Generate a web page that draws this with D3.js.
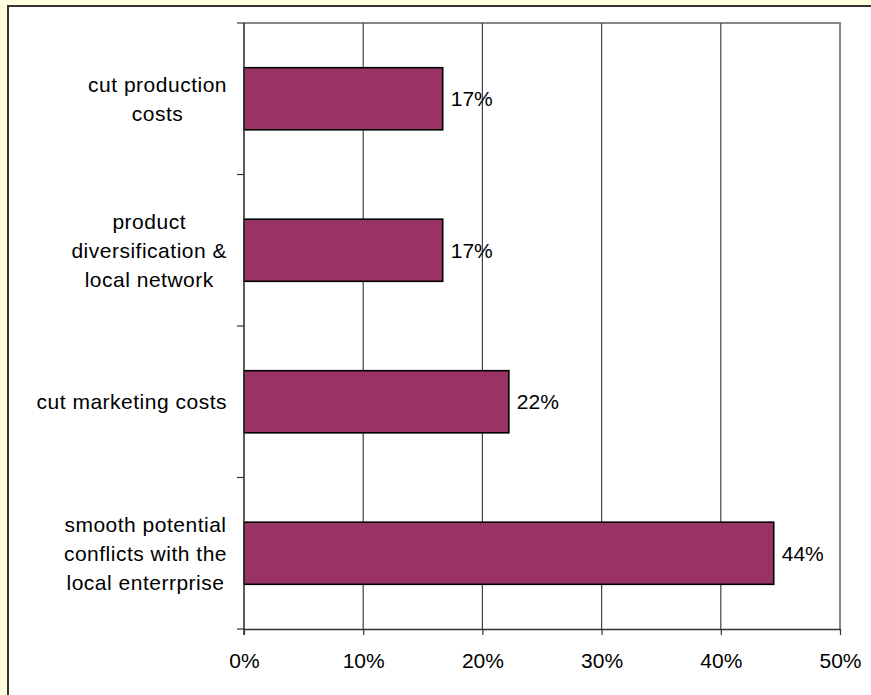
<!DOCTYPE html>
<html>
<head>
<meta charset="utf-8">
<script src="https://cdn.jsdelivr.net/npm/d3@7"></script>
<style>
  html, body { margin: 0; padding: 0; background: #ffffe0; }
  svg { display: block; }
  text { font-family: "Liberation Sans", Arial, sans-serif; fill: #000; }
</style>
</head>
<body>
<script>
// Reasons for cooperation, share of respondents
const categories = [
  ["cut production", "costs"],
  ["product", "diversification &", "local network"],
  ["cut marketing costs"],
  ["smooth potential", "conflicts with the", "local enterrprise"]
];
const shares = [0.1667, 0.1667, 0.2222, 0.4444];
const tickValues = [0, 0.1, 0.2, 0.3, 0.4, 0.5];

const W = 871, H = 695;
const margin = { top: 23, right: 31, bottom: 66, left: 244 };
const fontSize = 21;
const lineGap = 28.8;

const svg = d3.select("body").append("svg")
  .attr("width", W).attr("height", H);

// chart frame
svg.append("rect")
  .attr("x", 8).attr("y", 6).attr("width", W).attr("height", H)
  .attr("fill", "#fff").attr("stroke", "#333").attr("stroke-width", 2);

const x = d3.scaleLinear().domain([0, 0.5]).range([margin.left, W - margin.right]);
const keys = categories.map((c, i) => i);
const y = d3.scaleBand().domain(keys).range([margin.top, H - margin.bottom])
  .paddingInner(0.59).paddingOuter(0.295);
const yEdge = d3.scaleLinear().domain([0, categories.length]).range([margin.top, H - margin.bottom]);

// plot area border (top / right)
svg.append("path")
  .attr("d", `M${x(0)},${margin.top}H${x(0.5)}V${H - margin.bottom}`)
  .attr("fill", "none").attr("stroke", "#888").attr("stroke-width", 2);

// vertical gridlines
svg.append("g").selectAll("line")
  .data(tickValues.filter(v => v > 0 && v < 0.5))
  .join("line")
  .attr("x1", d => x(d)).attr("x2", d => x(d))
  .attr("y1", margin.top).attr("y2", H - margin.bottom)
  .attr("stroke", "#444").attr("stroke-width", 1.2);

// bars
svg.append("g").selectAll("rect")
  .data(shares)
  .join("rect")
  .attr("x", x(0))
  .attr("y", (d, i) => y(i))
  .attr("width", d => x(d) - x(0))
  .attr("height", y.bandwidth())
  .attr("fill", "#993366")
  .attr("stroke", "#000").attr("stroke-width", 1.6);

// value labels
svg.append("g").selectAll("text")
  .data(shares)
  .join("text")
  .attr("x", d => x(d) + 8)
  .attr("y", (d, i) => y(i) + y.bandwidth() / 2)
  .attr("dy", "0.36em")
  .attr("font-size", fontSize)
  .text(d3.format(".0%"));

// x axis
const xAxis = svg.append("g")
  .attr("transform", `translate(0,${H - margin.bottom})`)
  .call(d3.axisBottom(x).tickValues(tickValues).tickFormat(d3.format(".0%"))
    .tickSizeInner(6).tickSizeOuter(0).tickPadding(18));
xAxis.select(".domain").attr("stroke", "#333").attr("stroke-width", 1.6);
xAxis.selectAll(".tick line").attr("stroke", "#333").attr("stroke-width", 1.2);
xAxis.selectAll(".tick text").attr("font-size", fontSize)
  .attr("font-family", "Liberation Sans, Arial, sans-serif").attr("fill", "#000");

// y axis line and category boundary ticks
const yAxis = svg.append("g");
yAxis.append("line")
  .attr("x1", x(0)).attr("x2", x(0))
  .attr("y1", margin.top).attr("y2", H - margin.bottom + 6)
  .attr("stroke", "#333").attr("stroke-width", 1.6);
yAxis.selectAll("line.tk")
  .data(d3.range(categories.length + 1))
  .join("line").attr("class", "tk")
  .attr("x1", x(0) - 7).attr("x2", x(0))
  .attr("y1", d => yEdge(d)).attr("y2", d => yEdge(d))
  .attr("stroke", "#333").attr("stroke-width", 1.2);

// category labels: lines centred within a block aligned to the axis
const labelRight = x(0) - 17;
const labels = svg.append("g").selectAll("g")
  .data(categories)
  .join("g");
labels.each(function (lines, i) {
  const g = d3.select(this);
  const cy = y(i) + y.bandwidth() / 2;
  const t = g.selectAll("text").data(lines).join("text")
    .attr("font-size", fontSize)
    .attr("letter-spacing", 0.5)
    .attr("text-anchor", "middle")
    .attr("y", (d, j) => cy + (j - (lines.length - 1) / 2) * lineGap)
    .attr("dy", "0.36em")
    .text(d => d);
  let maxW = 0;
  t.each(function () { maxW = Math.max(maxW, this.getComputedTextLength()); });
  t.attr("x", labelRight - maxW / 2);
});
</script>
</body>
</html>
